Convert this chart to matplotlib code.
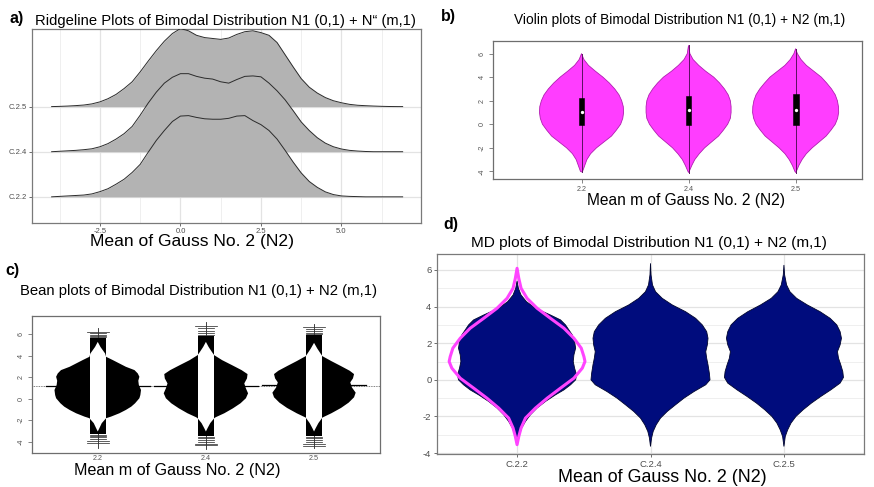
import matplotlib
matplotlib.use("Agg")
import matplotlib.pyplot as plt
from matplotlib.patches import Polygon, Rectangle

plt.rcParams['font.family'] = ['Liberation Sans', 'DejaVu Sans']

# ---------------------------------------------------------------- data
# a) ridgelines: density heights (in ridge units) on a common x grid
ridge_x = [-4.0, -3.75, -3.5, -3.25, -3.0, -2.75, -2.5, -2.25, -2.0, -1.75, -1.5,
           -1.25, -1.0, -0.75, -0.5, -0.25, 0.0, 0.25, 0.5, 0.75, 1.0, 1.25, 1.5,
           1.75, 2.0, 2.25, 2.5, 2.75, 3.0, 3.25, 3.5, 3.75, 4.0, 4.25, 4.5, 4.75,
           5.0, 5.25, 5.5, 5.75, 6.0, 6.25, 6.5, 6.75, 6.9]
ridge_c22 = [0.0, 0.01, 0.02, 0.03, 0.04, 0.065, 0.115, 0.18, 0.28, 0.39, 0.54, 0.72,
             0.99, 1.25, 1.47, 1.67, 1.79, 1.80, 1.76, 1.73, 1.72, 1.72, 1.74, 1.79,
             1.80, 1.69, 1.60, 1.47, 1.28, 1.03, 0.77, 0.53, 0.34, 0.21, 0.11, 0.05,
             0.02, 0.01, 0.005, 0.0, 0.0, 0.0, 0.0, 0.0, 0.0]
ridge_c24 = [0.0, 0.01, 0.02, 0.03, 0.045, 0.065, 0.11, 0.18, 0.28, 0.40, 0.56, 0.81,
             1.08, 1.32, 1.52, 1.65, 1.73, 1.73, 1.67, 1.63, 1.61, 1.55, 1.52, 1.60,
             1.67, 1.68, 1.66, 1.52, 1.35, 1.15, 0.91, 0.66, 0.47, 0.31, 0.19, 0.11,
             0.06, 0.03, 0.015, 0.005, 0.0, 0.0, 0.0, 0.0, 0.0]
ridge_c25 = [0.0, 0.005, 0.012, 0.022, 0.035, 0.06, 0.105, 0.175, 0.27, 0.40, 0.55, 0.77,
             1.01, 1.24, 1.45, 1.62, 1.73, 1.68, 1.58, 1.53, 1.51, 1.49, 1.52, 1.60,
             1.66, 1.68, 1.64, 1.58, 1.42, 1.15, 0.88, 0.62, 0.43, 0.30, 0.20, 0.13,
             0.085, 0.05, 0.03, 0.02, 0.012, 0.006, 0.002, 0.0, 0.0]
ridge_labels = ["C.2.2", "C.2.4", "C.2.5"]

# b) violins: half widths along y
groups_m = ["2.2", "2.4", "2.5"]
vio_y22 = [6.0, 5.5, 5.0, 4.5, 4.0, 3.5, 3.0, 2.5, 2.0, 1.5, 1.0, 0.5, 0.0, -0.5,
           -1.0, -1.5, -2.0, -2.5, -3.0, -3.5, -4.0, -4.05]
vio_w22 = [0.0, 0.022, 0.065, 0.13, 0.20, 0.26, 0.31, 0.35, 0.375, 0.39, 0.393, 0.385,
           0.365, 0.325, 0.28, 0.21, 0.14, 0.085, 0.05, 0.03, 0.01, 0.0]
vio_y24 = [6.7, 6.5, 6.0, 5.5, 5.0, 4.5, 4.0, 3.5, 3.0, 2.5, 2.0, 1.5, 1.0, 0.5, 0.0,
           -0.5, -1.0, -1.5, -2.0, -2.5, -3.0, -3.5, -4.0, -4.1]
vio_w24 = [0.0, 0.004, 0.012, 0.042, 0.095, 0.16, 0.235, 0.29, 0.335, 0.37, 0.39, 0.397,
           0.397, 0.39, 0.365, 0.325, 0.28, 0.215, 0.15, 0.10, 0.058, 0.03, 0.006, 0.0]
vio_y25 = [6.42, 6.0, 5.5, 5.0, 4.5, 4.0, 3.5, 3.0, 2.5, 2.0, 1.5, 1.0, 0.5, 0.0,
           -0.5, -1.0, -1.5, -2.0, -2.5, -3.0, -3.5, -4.0, -4.1]
vio_w25 = [0.0, 0.016, 0.05, 0.10, 0.17, 0.24, 0.29, 0.335, 0.37, 0.39, 0.40, 0.402,
           0.392, 0.37, 0.33, 0.285, 0.22, 0.155, 0.10, 0.06, 0.03, 0.007, 0.0]
vio_q1 = [-0.05, -0.05, -0.05]
vio_q3 = [2.25, 2.40, 2.53]
vio_med = [1.07, 1.21, 1.21]

# c) beans: density half widths, beanline ranges and sparse tail observations
bean_y22 = [5.29, 4.82, 4.52, 4.21, 3.90, 3.59, 3.28, 2.97, 2.66, 2.35, 2.04, 1.67, 1.27,
            0.81, 0.34, 0.04, -0.43, -0.74, -1.05, -1.36, -1.67, -1.82, -2.28, -2.75, -3.06]
bean_w22 = [0.0, 0.025, 0.046, 0.068, 0.077, 0.14, 0.20, 0.26, 0.34, 0.37, 0.385, 0.375,
            0.38, 0.40, 0.394, 0.385, 0.345, 0.31, 0.26, 0.20, 0.123, 0.077, 0.037, 0.015, 0.0]
bean_y24 = [5.29, 4.82, 4.36, 4.05, 3.59, 3.13, 2.66, 2.29, 1.89, 1.42, 0.96, 0.50, 0.04,
            -0.43, -0.9, -1.36, -1.73, -1.82, -2.28, -2.75, -3.06]
bean_w24 = [0.0, 0.025, 0.055, 0.077, 0.15, 0.24, 0.33, 0.385, 0.38, 0.355, 0.37, 0.39,
            0.37, 0.32, 0.25, 0.17, 0.09, 0.077, 0.04, 0.015, 0.0]
bean_y25 = [5.2, 4.67, 4.21, 3.96, 3.5, 3.03, 2.6, 2.29, 1.89, 1.52, 1.05, 0.56, 0.13,
            -0.37, -0.86, -1.36, -1.76, -2.28, -2.75, -3.06]
bean_w25 = [0.0, 0.03, 0.06, 0.077, 0.16, 0.25, 0.33, 0.37, 0.36, 0.335, 0.35, 0.385,
            0.37, 0.32, 0.25, 0.16, 0.077, 0.04, 0.015, 0.0]
bean_dense_lo = [-3.25, -3.45, -3.45]
bean_dense_hi = [5.65, 5.85, 5.90]
bean_tail22 = [5.75, 5.85, 5.95, 6.1, 6.25, -3.35, -3.45, -3.6, -3.75, -3.95, -4.1]
bean_tail24 = [5.95, 6.1, 6.3, 6.55, 6.8, -3.55, -3.7, -3.85, -4.0, -4.2, -4.35]
bean_tail25 = [6.0, 6.15, 6.3, 6.5, 6.7, -3.55, -3.7, -3.85, -4.05, -4.25, -4.4]
bean_min = [-4.55, -4.7, -4.6]
bean_max = [6.55, 7.1, 7.0]
bean_mean = [1.15, 1.20, 1.25]
overall_mean = 1.2

# d) mirrored densities + one violin outline
md_labels = ["C.2.2", "C.2.4", "C.2.5"]
md_y22 = [5.4, 5.0, 4.63, 4.27, 3.91, 3.54, 3.27, 3.0, 2.73, 2.45, 2.09, 1.73, 1.36, 1.0,
          0.64, 0.27, 0.0, -0.27, -0.55, -0.82, -1.18, -1.54, -1.91, -2.27, -2.63, -3.0,
          -3.36, -3.54]
md_w22 = [0.0, 0.01, 0.03, 0.07, 0.138, 0.25, 0.326, 0.363, 0.388, 0.414, 0.431, 0.439,
          0.426, 0.421, 0.431, 0.446, 0.439, 0.401, 0.351, 0.288, 0.213, 0.15, 0.10,
          0.063, 0.035, 0.018, 0.008, 0.0]
md_y24 = [6.36, 5.73, 5.18, 4.81, 4.45, 4.09, 3.72, 3.36, 3.0, 2.63, 2.27, 1.91, 1.54,
          1.18, 0.82, 0.36, 0.0, -0.27, -0.64, -1.0, -1.36, -1.73, -2.09, -2.45, -2.82,
          -3.18, -3.64]
md_w24 = [0.0, 0.004, 0.015, 0.038, 0.088, 0.163, 0.263, 0.338, 0.388, 0.421, 0.431,
          0.426, 0.414, 0.421, 0.431, 0.441, 0.446, 0.414, 0.326, 0.251, 0.188, 0.125,
          0.075, 0.043, 0.02, 0.008, 0.0]
md_y25 = [6.27, 5.73, 5.18, 4.81, 4.45, 4.09, 3.72, 3.36, 3.0, 2.63, 2.27, 1.91, 1.54,
          1.18, 0.82, 0.45, 0.13, -0.18, -0.55, -0.91, -1.27, -1.64, -2.0, -2.36, -2.73,
          -3.09, -3.64]
md_w25 = [0.0, 0.005, 0.02, 0.045, 0.095, 0.175, 0.271, 0.346, 0.396, 0.421, 0.431,
          0.421, 0.401, 0.409, 0.426, 0.441, 0.446, 0.421, 0.351, 0.276, 0.206, 0.143,
          0.09, 0.053, 0.028, 0.01, 0.0]
md_vio_y = [6.09, 5.54, 5.0, 4.45, 3.91, 3.36, 2.82, 2.27, 1.73, 1.27, 1.0, 0.64, 0.09,
            -0.45, -1.0, -1.54, -2.09, -2.63, -3.09, -3.54]
md_vio_w = [0.0, 0.013, 0.03, 0.075, 0.15, 0.25, 0.351, 0.426, 0.481, 0.501, 0.509,
            0.489, 0.426, 0.326, 0.226, 0.138, 0.063, 0.03, 0.013, 0.0]

# ---------------------------------------------------------------- layout
W, H = 874, 487
fig = plt.figure(figsize=(W / 100, H / 100), dpi=100)


def px_axes(left, top, right, bottom):
    return fig.add_axes([left / W, 1 - bottom / H, (right - left) / W, (bottom - top) / H])


def ftext(x, y, s, **kw):
    kw.setdefault("ha", "center")
    kw.setdefault("va", "center")
    fig.text(x / W, 1 - y / H, s, **kw)


def mirrored(pos, ys, ws):
    right = [(pos + w, y) for y, w in zip(ys, ws)]
    left = [(pos - w, y) for y, w in zip(ys, ws)][::-1]
    return right + left


GG_GRID = "#E3E3E3"
GG_MINOR = "#EFEFEF"
GG_BORDER = "#7A7A7A"
GG_TEXT = "#4D4D4D"

# ---------------------------------------------------------------- a) ridgelines
axa = px_axes(32, 29, 421, 223)
axa.set_xlim(-4.61, 7.47)
axa.set_ylim(0.42, 4.72)
for xv in [-3.75, -1.25, 1.25, 3.75, 6.25]:
    axa.axvline(xv, color=GG_MINOR, lw=0.7, zorder=0)
for xv in [-2.5, 0.0, 2.5, 5.0]:
    axa.axvline(xv, color=GG_GRID, lw=0.9, zorder=0)
for yv in [1, 2, 3]:
    axa.axhline(yv, color=GG_GRID, lw=0.9, zorder=0)
for k, (base, h) in enumerate([(3, ridge_c25), (2, ridge_c24), (1, ridge_c22)]):
    top = [base + v for v in h]
    axa.fill_between(ridge_x, base, top, color="#B3B3B3", lw=0, zorder=2 + 2 * k)
    axa.plot(ridge_x, top, color="#2B2B2B", lw=0.7, zorder=3 + 2 * k)
axa.set_xticks([-2.5, 0.0, 2.5, 5.0])
axa.set_xticklabels(["-2.5", "0.0", "2.5", "5.0"])
axa.set_yticks([1, 2, 3])
axa.set_yticklabels(ridge_labels)
axa.tick_params(labelsize=5.5, labelcolor=GG_TEXT, color="#333333", length=2, width=0.5, pad=1.5)
for sp in axa.spines.values():
    sp.set_color(GG_BORDER)
    sp.set_linewidth(0.9)

ftext(9, 19, "a)", ha="left", fontsize=11.5, fontweight="bold")
ftext(225, 21, "Ridgeline Plots of Bimodal Distribution N1 (0,1) + N\u201c (m,1)", fontsize=10.6)
ftext(192, 242, "Mean of Gauss No. 2 (N2)", fontsize=12.6)

# ---------------------------------------------------------------- b) violins
axb = px_axes(493, 41, 862, 179)
axb.set_xlim(0.173, 3.62)
axb.set_ylim(-4.65, 7.07)
vio_sets = [(vio_y22, vio_w22), (vio_y24, vio_w24), (vio_y25, vio_w25)]
for i, (ys, ws) in enumerate(vio_sets):
    pos = i + 1
    axb.add_patch(Polygon(mirrored(pos, ys, ws), closed=True, facecolor="#FF3DFF",
                          edgecolor="#B01EB0", lw=0.6, zorder=2))
    axb.plot([pos, pos], [min(ys), max(ys)], color="#5A1060", lw=0.7, zorder=3)
    axb.add_patch(Rectangle((pos - 0.027, vio_q1[i]), 0.054, vio_q3[i] - vio_q1[i],
                            facecolor="black", edgecolor="black", lw=0.4, zorder=4))
    axb.plot([pos], [vio_med[i]], "o", ms=2.4, color="white", mew=0, zorder=5)
axb.set_xticks([1, 2, 3])
axb.set_xticklabels(groups_m)
axb.set_yticks([-4, -2, 0, 2, 4, 6])
axb.set_yticklabels(["-4", "-2", "0", "2", "4", "6"], rotation=90, va="center")
axb.tick_params(labelsize=5.2, labelcolor="#555555", color="#555555", length=3, width=0.5, pad=2)
for sp in axb.spines.values():
    sp.set_color("#6E6E6E")
    sp.set_linewidth(0.9)

ftext(441, 17, "b)", ha="left", fontsize=11.5, fontweight="bold")
ftext(680, 20, "Violin plots of Bimodal Distribution N1 (0,1) + N2 (m,1)", fontsize=9.9)
ftext(686, 200, "Mean m of Gauss No. 2 (N2)", fontsize=11.2)

# ---------------------------------------------------------------- c) beans
axc = px_axes(32, 316, 380, 453)
axc.set_xlim(0.392, 3.61)
axc.set_ylim(-5.06, 7.7)
axc.axhline(overall_mean, color="#555555", lw=0.6, ls=(0, (1, 1)), zorder=1)
bean_sets = [(bean_y22, bean_w22, bean_tail22), (bean_y24, bean_w24, bean_tail24),
             (bean_y25, bean_w25, bean_tail25)]
ll = 0.075
for i, (ys, ws, tails) in enumerate(bean_sets):
    pos = i + 1
    axc.plot([pos, pos], [bean_min[i], bean_max[i]], color="#222222", lw=0.6, zorder=2)
    axc.add_patch(Rectangle((pos - ll, bean_dense_lo[i]), 2 * ll,
                            bean_dense_hi[i] - bean_dense_lo[i], facecolor="black",
                            lw=0, zorder=2))
    for j, t in enumerate(tails):
        wide = 0.1 if j in (4, len(tails) - 1, len(tails) - 2) else ll
        axc.plot([pos - wide, pos + wide], [t, t], color="#333333", lw=0.55, zorder=2)
    axc.plot([pos - 0.48, pos + 0.48], [bean_mean[i], bean_mean[i]], color="black",
             lw=0.9, zorder=3)
    bean = Polygon(mirrored(pos, ys, ws), closed=True, facecolor="black", lw=0, zorder=3)
    axc.add_patch(bean)
    strip = Rectangle((pos - ll, bean_dense_lo[i]), 2 * ll,
                      bean_dense_hi[i] - bean_dense_lo[i], facecolor="white", lw=0, zorder=4)
    axc.add_patch(strip)
    strip.set_clip_path(bean)
axc.set_xticks([1, 2, 3])
axc.set_xticklabels(groups_m)
axc.set_yticks([-4, -2, 0, 2, 4, 6])
axc.set_yticklabels(["-4", "-2", "0", "2", "4", "6"], rotation=90, va="center")
axc.tick_params(labelsize=5.2, labelcolor="#555555", color="#555555", length=3, width=0.5, pad=2)
axc.tick_params(axis="x", length=0, pad=1.5)
for sp in axc.spines.values():
    sp.set_color("#6E6E6E")
    sp.set_linewidth(0.9)

ftext(5, 270, "c)", ha="left", fontsize=11.5, fontweight="bold")
ftext(198, 291, "Bean plots of Bimodal Distribution N1 (0,1) + N2 (m,1)", fontsize=10.7)
ftext(177, 470, "Mean m of Gauss No. 2 (N2)", fontsize=11.6)

# ---------------------------------------------------------------- d) MD plots
axd = px_axes(437, 254, 864, 454)
axd.set_xlim(0.4, 3.6)
axd.set_ylim(-4.05, 6.87)
for yv in [-3, -1, 1, 3, 5]:
    axd.axhline(yv, color=GG_MINOR, lw=0.7, zorder=0)
for yv in [-4, -2, 0, 2, 4, 6]:
    axd.axhline(yv, color=GG_GRID, lw=0.9, zorder=0)
for xv in [1, 2, 3]:
    axd.axvline(xv, color=GG_GRID, lw=0.9, zorder=0)
md_sets = [(md_y22, md_w22), (md_y24, md_w24), (md_y25, md_w25)]
for i, (ys, ws) in enumerate(md_sets):
    pos = i + 1
    axd.add_patch(Polygon(mirrored(pos, ys, ws), closed=True, facecolor="#000C7D",
                          edgecolor="#00052E", lw=0.6, zorder=2))
outline = mirrored(1, md_vio_y, md_vio_w)
axd.add_patch(Polygon(outline, closed=True, fill=False, edgecolor="#FF44FF", lw=2.2,
                      joinstyle="round", zorder=3))
axd.set_xticks([1, 2, 3])
axd.set_xticklabels(md_labels)
axd.set_yticks([-4, -2, 0, 2, 4, 6])
axd.set_yticklabels(["-4", "-2", "0", "2", "4", "6"])
axd.tick_params(labelsize=6.8, labelcolor=GG_TEXT, color="#333333", length=2, width=0.5, pad=2)
for sp in axd.spines.values():
    sp.set_color(GG_BORDER)
    sp.set_linewidth(0.9)

ftext(443, 225, "d)", ha="left", fontsize=11.5, fontweight="bold")
ftext(649, 243, "MD plots of Bimodal Distribution N1 (0,1) + N2 (m,1)", fontsize=11.1)
ftext(662, 478, "Mean of Gauss No. 2 (N2)", fontsize=12.9)

fig.savefig("out.png", dpi=100)
